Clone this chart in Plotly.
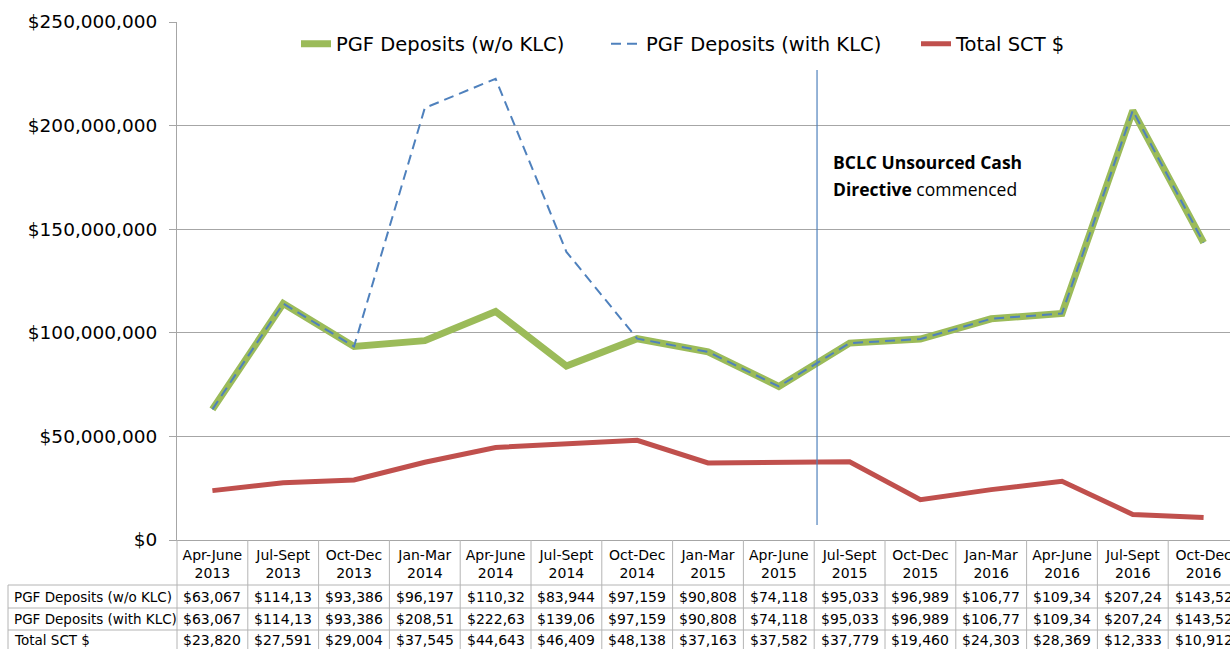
import plotly.graph_objects as go

# ---------------- data ----------------
quarters = ["Apr-June", "Jul-Sept", "Oct-Dec", "Jan-Mar", "Apr-June", "Jul-Sept", "Oct-Dec",
            "Jan-Mar", "Apr-June", "Jul-Sept", "Oct-Dec", "Jan-Mar", "Apr-June", "Jul-Sept", "Oct-Dec"]
years = ["2013", "2013", "2013", "2014", "2014", "2014", "2014",
         "2015", "2015", "2015", "2015", "2016", "2016", "2016", "2016"]
pgf_wo_klc = [63067000, 114130000, 93386000, 96197000, 110320000, 83944000, 97159000,
              90808000, 74118000, 95033000, 96989000, 106770000, 109340000, 207240000, 143520000]
pgf_with_klc = [63067000, 114130000, 93386000, 208510000, 222630000, 139060000, 97159000,
                90808000, 74118000, 95033000, 96989000, 106770000, 109340000, 207240000, 143520000]
total_sct = [23820000, 27591000, 29004000, 37545000, 44643000, 46409000, 48138000,
             37163000, 37582000, 37779000, 19460000, 24303000, 28369000, 12333000, 10912000]
series_names = ["PGF Deposits (w/o KLC)", "PGF Deposits (with KLC)", "Total SCT $"]
directive_x = 8.54           # directive marker, between Apr-June 2015 and Jul-Sept 2015
directive_y = [7.2e6, 226.8e6]
directive_text = ["<b>BCLC Unsourced Cash</b>", "<b>Directive</b> commenced"]

# ---------------- styles ----------------
FONT = "DejaVu Sans"
GREEN = "#9BBB59"
BLUE = "#4F81BD"
RED = "#C0504D"
GRID = "#A6A6A6"
BORDER = "#B4B4B4"

W, H = 1239, 649             # chart is wider than the window; right edge is cropped
L, T = 177, 22
PLOT_BOTTOM = 540
R, B = 0, H - PLOT_BOTTOM
plot_h = H - T - B
plot_w = W - L - R


def py(pix):
    """screen pixel y -> paper y"""
    return (PLOT_BOTTOM - pix) / plot_h


def px(pix):
    """screen pixel x -> paper x"""
    return (pix - L) / plot_w


n = len(quarters)
x = list(range(n))

fig = go.Figure()
fig.add_trace(go.Scatter(x=x, y=pgf_wo_klc, mode="lines", name=series_names[0],
                         line=dict(color=GREEN, width=7)))
fig.add_trace(go.Scatter(x=x, y=pgf_with_klc, mode="lines", name=series_names[1],
                         line=dict(color=BLUE, width=2, dash="10px,6px")))
fig.add_trace(go.Scatter(x=x, y=total_sct, mode="lines", name=series_names[2],
                         line=dict(color=RED, width=5)))
fig.add_trace(go.Scatter(x=[directive_x, directive_x], y=directive_y, mode="lines",
                         line=dict(color=BLUE, width=1.2), showlegend=False, hoverinfo="skip"))

shapes = []
annotations = []
row_lines = [585, 608, 630]
table_bottom = 660
for yy in row_lines:
    shapes.append(dict(type="line", xref="paper", yref="paper", x0=px(8), x1=1, y0=py(yy), y1=py(yy),
                       line=dict(color=BORDER, width=1)))
for i in range(n + 1):
    shapes.append(dict(type="line", xref="paper", yref="paper", x0=i / n, x1=i / n, y0=0, y1=py(table_bottom),
                       line=dict(color=BORDER, width=1)))
shapes.append(dict(type="line", xref="paper", yref="paper", x0=px(8), x1=px(8), y0=py(585), y1=py(table_bottom),
                   line=dict(color=BORDER, width=1)))

rows = [(series_names[0], pgf_wo_klc, 596.5), (series_names[1], pgf_with_klc, 618.5), (series_names[2], total_sct, 640)]
for label, vals, yc in rows:
    annotations.append(dict(xref="paper", yref="paper", x=px(12), y=py(yc), text=label, showarrow=False,
                            xanchor="left", yanchor="middle", font=dict(family=FONT, size=13.5, color="#000")))
    for i, v in enumerate(vals):
        txt = ("${:,.0f}".format(v))[:7]
        annotations.append(dict(xref="x", yref="paper", x=i, y=py(yc), text=txt, showarrow=False,
                                xanchor="center", yanchor="middle", font=dict(family=FONT, size=14, color="#000")))

for txt, yc in zip(directive_text, [162, 189]):
    annotations.append(dict(xref="x", yref="paper", x=directive_x + 0.2, y=py(yc),
                            text=txt, showarrow=False, xanchor="left", yanchor="middle",
                            font=dict(family="Open Sans", size=17.5, color="#000")))

fig.update_layout(
    width=W, height=H,
    margin=dict(l=L, r=R, t=T, b=B, pad=0),
    paper_bgcolor="white", plot_bgcolor="white",
    font=dict(family=FONT, size=14, color="#000"),
    showlegend=True,
    legend=dict(orientation="h", x=px(296), xanchor="left", y=py(44), yanchor="middle",
                font=dict(family=FONT, size=19.5, color="#000"), bgcolor="rgba(0,0,0,0)",
                traceorder="normal", entrywidth=265, entrywidthmode="pixels"),
    shapes=shapes,
    annotations=annotations,
    xaxis=dict(range=[-0.5, n - 0.5], tickvals=x,
               ticktext=[f"{q}<br>{yv}" for q, yv in zip(quarters, years)],
               showgrid=False, zeroline=False, showline=True, linecolor=GRID, linewidth=1,
               ticks="", ticklabelstandoff=2, tickfont=dict(family=FONT, size=14, color="#000"), fixedrange=True),
    yaxis=dict(range=[0, 250e6], dtick=50e6, tickprefix="$", tickformat=",.0f",
               showgrid=True, gridcolor=GRID, gridwidth=1, zeroline=False,
               showline=True, linecolor=GRID, linewidth=1, ticks="outside", ticklen=7, tickcolor=GRID,
               tickfont=dict(family=FONT, size=18.5, color="#000"), ticklabelstandoff=8, fixedrange=True),
)

fig.write_html("out.html", config={"displayModeBar": False},
               post_script="document.body.style.margin='0';document.body.style.overflow='hidden';")
